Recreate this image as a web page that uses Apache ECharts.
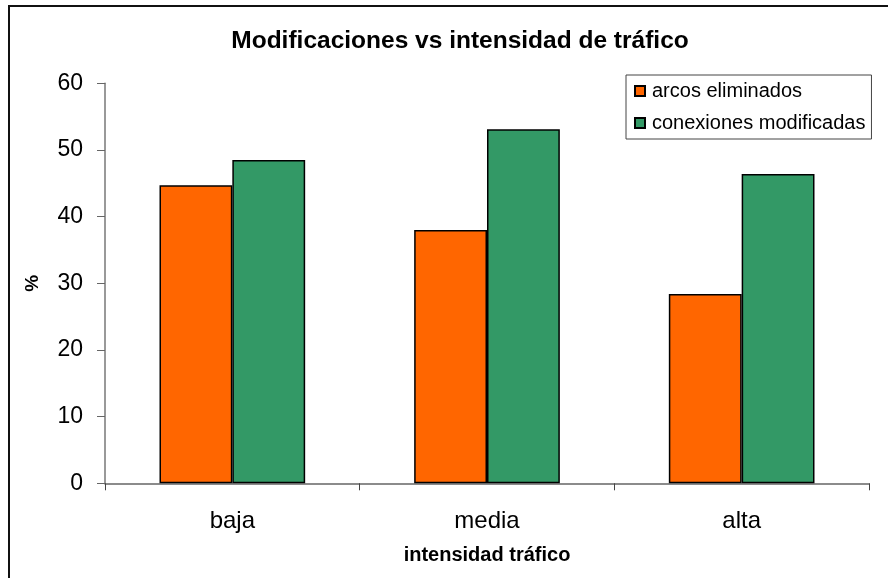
<!DOCTYPE html>
<html>
<head>
<meta charset="utf-8">
<script src="https://cdn.jsdelivr.net/npm/echarts@6/dist/echarts.min.js"></script>
<style>
  html, body { margin: 0; padding: 0; background: #fff; }
  #main { width: 888px; height: 578px; }
</style>
</head>
<body>
<div id="main"></div>
<script>
const categories = ['baja', 'media', 'alta']
const arcosEliminados = [44.7, 38.0, 28.4]
const conexionesModificadas = [48.5, 53.1, 46.4]
const yTicks = [0, 10, 20, 30, 40, 50, 60]

let myChart = echarts.init(document.getElementById('main'))

const font = 'Liberation Sans, Arial, sans-serif'

let options = {
    backgroundColor: '#fff',
    textStyle: { fontFamily: font },
    // marco exterior del gráfico
    graphic: [{
        type: 'rect',
        shape: { x: 9, y: 6, width: 900, height: 600 },
        style: { fill: 'none', stroke: '#111', lineWidth: 2 },
        silent: true
    }],
    title: {
        text: 'Modificaciones vs intensidad de tráfico',
        left: 455,
        textAlign: 'center',
        top: 24,
        textStyle: { fontFamily: font, fontSize: 24.5, fontWeight: 'bold', color: '#000' }
    },
    legend: {
        orient: 'vertical',
        left: 626,
        top: 75,
        padding: [6, 6, 6, 8],
        itemGap: 12,
        itemWidth: 10,
        itemHeight: 10,
        icon: 'rect',
        borderColor: '#444',
        borderWidth: 1,
        backgroundColor: '#fff',
        textStyle: { fontFamily: font, fontSize: 20, color: '#000', lineHeight: 20, padding: [0, 0, 0, 2] },
        data: ['arcos eliminados', 'conexiones modificadas']
    },
    grid: { left: 105, right: 19, top: 83.3, bottom: 94.7 },
    xAxis: {
        type: 'category',
        data: categories,
        name: 'intensidad tráfico',
        nameLocation: 'middle',
        nameGap: 62,
        nameTextStyle: { fontFamily: font, fontSize: 20, fontWeight: 'bold', color: '#000' },
        axisLine: { lineStyle: { color: '#666', width: 1.5 } },
        axisTick: { show: true, length: 7, lineStyle: { color: '#444' } },
        axisLabel: { fontSize: 24, color: '#000', margin: 26 }
    },
    yAxis: {
        type: 'value',
        min: yTicks[0],
        max: yTicks[yTicks.length - 1],
        interval: 10,
        name: '%',
        nameLocation: 'middle',
        nameGap: 63,
        nameRotate: 90,
        nameTextStyle: { fontFamily: font, fontSize: 19, fontWeight: 'bold', color: '#000' },
        splitLine: { show: false },
        axisLine: { show: true, lineStyle: { color: '#777', width: 1.5 } },
        axisTick: { show: true, length: 8, lineStyle: { color: '#666' } },
        axisLabel: { fontSize: 23, color: '#000', margin: 22 }
    },
    series: [{
        name: 'arcos eliminados',
        type: 'bar',
        data: arcosEliminados,
        barWidth: '28.6%',
        barGap: '0%',
        itemStyle: { color: '#FF6600', borderColor: '#000', borderWidth: 1.5 }
    }, {
        name: 'conexiones modificadas',
        type: 'bar',
        data: conexionesModificadas,
        barWidth: '28.6%',
        barGap: '0%',
        itemStyle: { color: '#339966', borderColor: '#000', borderWidth: 1.5 }
    }]
}

myChart.setOption(options)
</script>
</body>
</html>
